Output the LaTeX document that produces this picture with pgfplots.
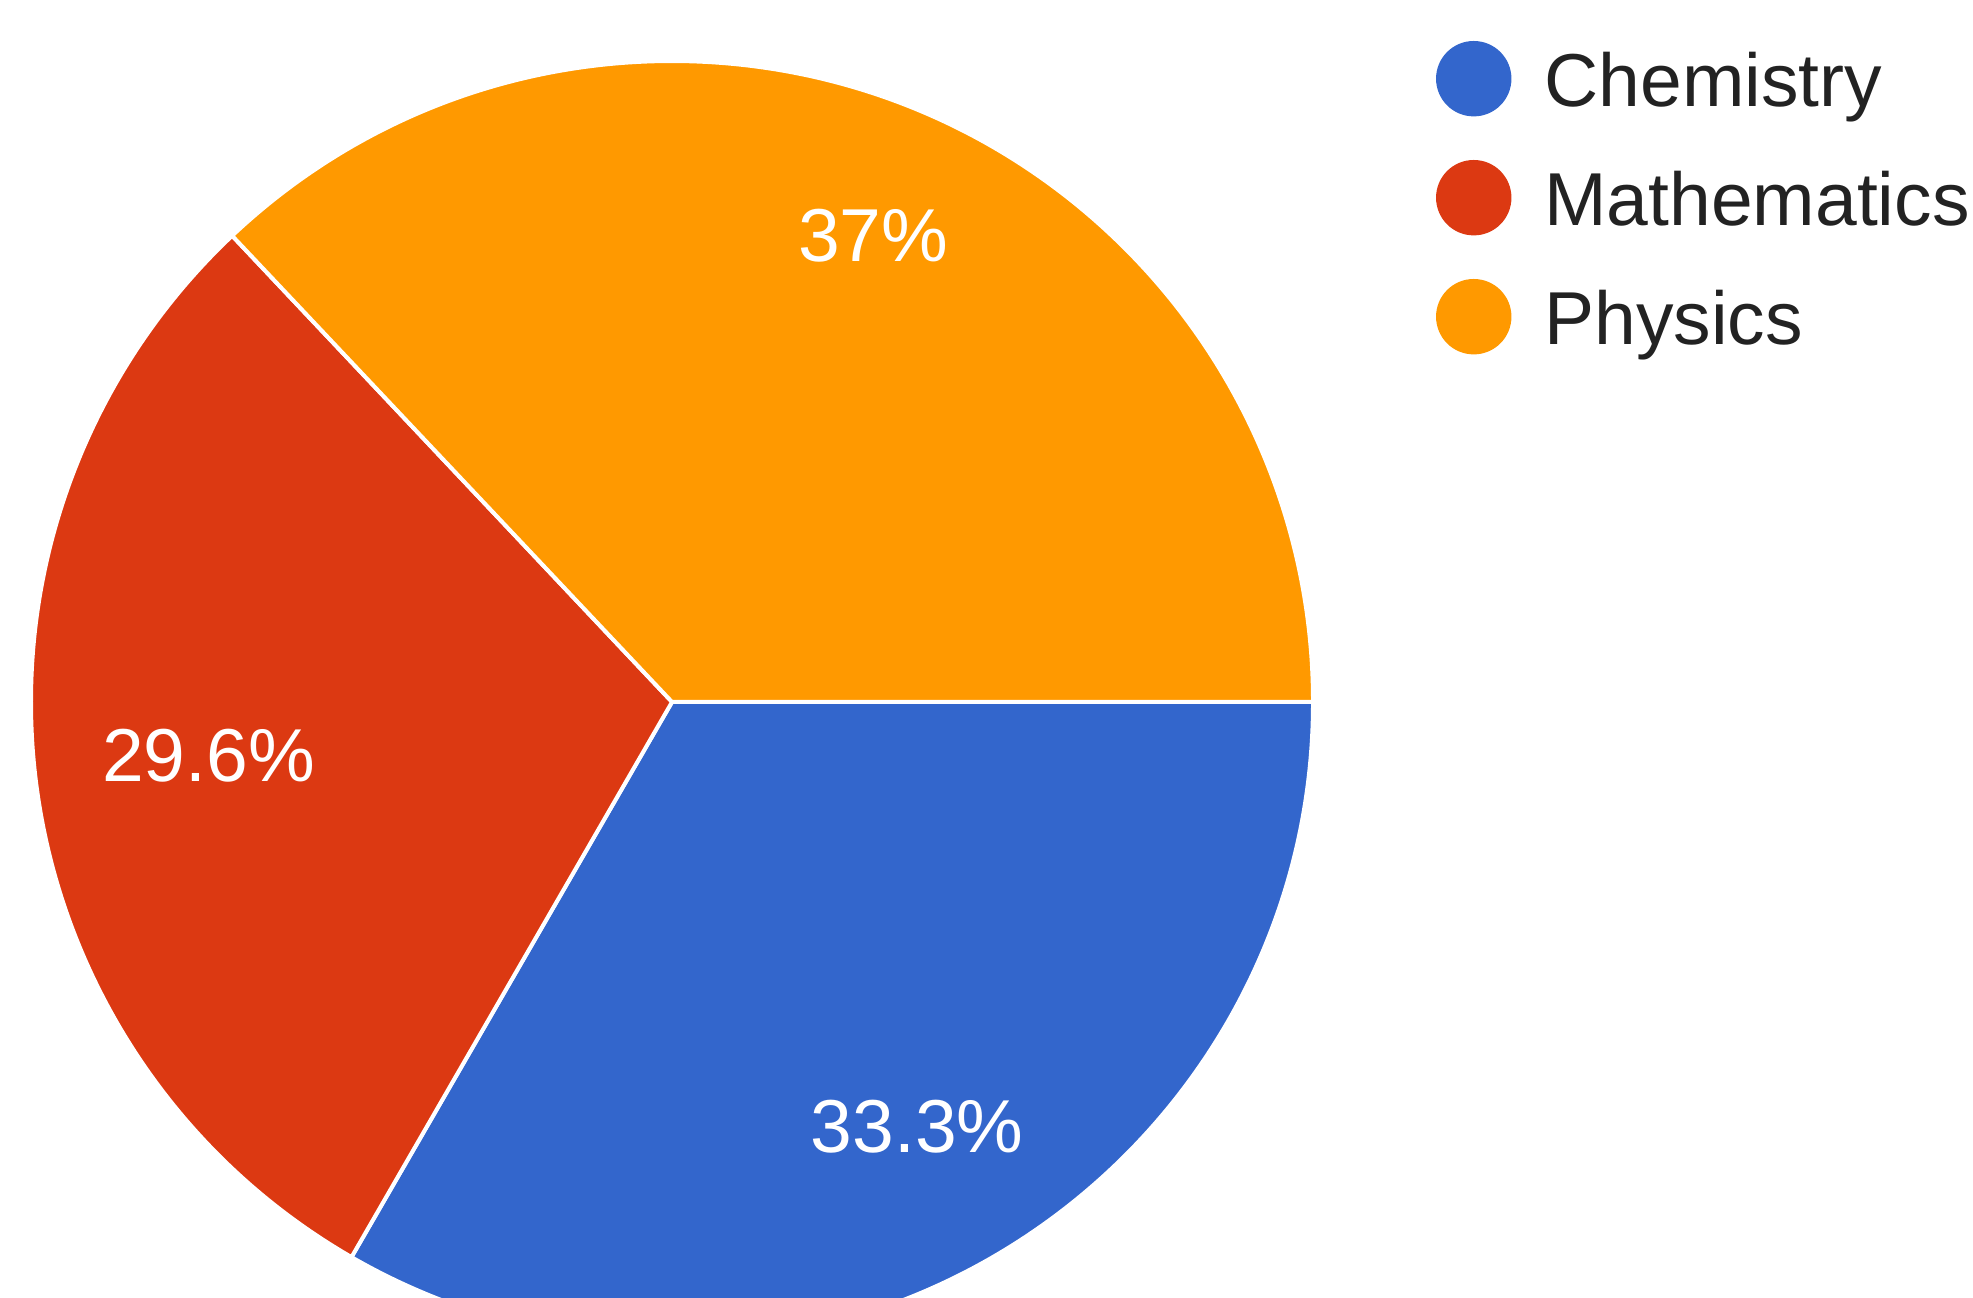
\documentclass[border=0pt]{standalone}
\usepackage{pgfplots}
\pgfplotsset{compat=1.18}
\usepackage{fontspec}
\setmainfont{Liberation Sans}

\definecolor{chem}{HTML}{3366CC}
\definecolor{math}{HTML}{DC3912}
\definecolor{phys}{HTML}{FF9900}
\definecolor{legtext}{HTML}{222222}

\begin{document}
\begin{tikzpicture}
\begin{axis}[
  name=ax,
  hide axis,
  clip=true,
  x=128.2pt, y=128.2pt,
  xmin=-1.04836, xmax=2.02964,
  ymin=-0.92824, ymax=1.09516,
  legend image code/.code={\fill[#1] (0pt,0pt) circle (7.34pt);},
  legend style={draw=none, fill=none, inner sep=0pt, outer sep=0pt,
    at={(axis cs:1.1919,1.0312)}, anchor=north west,
    font=\fontsize{15}{18}\selectfont, text=legtext,
    row sep=8.72pt, column sep=0pt,
    nodes={inner sep=0pt, text height=11pt, text depth=0pt},
    /tikz/every odd column/.append style={column sep=6.6pt}},
  legend cell align=left,
]
% slices: value / colour / label radius
\pgfmathsetmacro\total{33.3+29.6+37}
\def\startang{0}
\foreach \v/\c/\lr in {33.3/chem/0.765, 29.6/math/0.728, 37/phys/0.792}{
  \pgfmathsetmacro\endang{\startang-360*\v/\total}
  \pgfmathsetmacro\midang{(\startang+\endang)/2}
  \edef\doit{%
    \noexpand\fill[\c, draw=white, line width=0.8pt, line join=round]
      (axis cs:0,0) -- (axis cs:{cos(\startang)},{sin(\startang)})
      arc[start angle=\startang, end angle=\endang, radius=128.2pt] -- cycle;
    \noexpand\node[text=white, font=\noexpand\fontsize{15}{18}\noexpand\selectfont]
      at (axis cs:{\lr*cos(\midang)},{\lr*sin(\midang)}) {\v\noexpand\%};
  }
  \doit
  \global\let\startang\endang
}
\addlegendimage{chem}\addlegendentry{Chemistry}
\addlegendimage{math}\addlegendentry{Mathematics}
\addlegendimage{phys}\addlegendentry{Physics}
\end{axis}
\pgfresetboundingbox
\path (ax.south west) rectangle (ax.north east);
\end{tikzpicture}
\end{document}
